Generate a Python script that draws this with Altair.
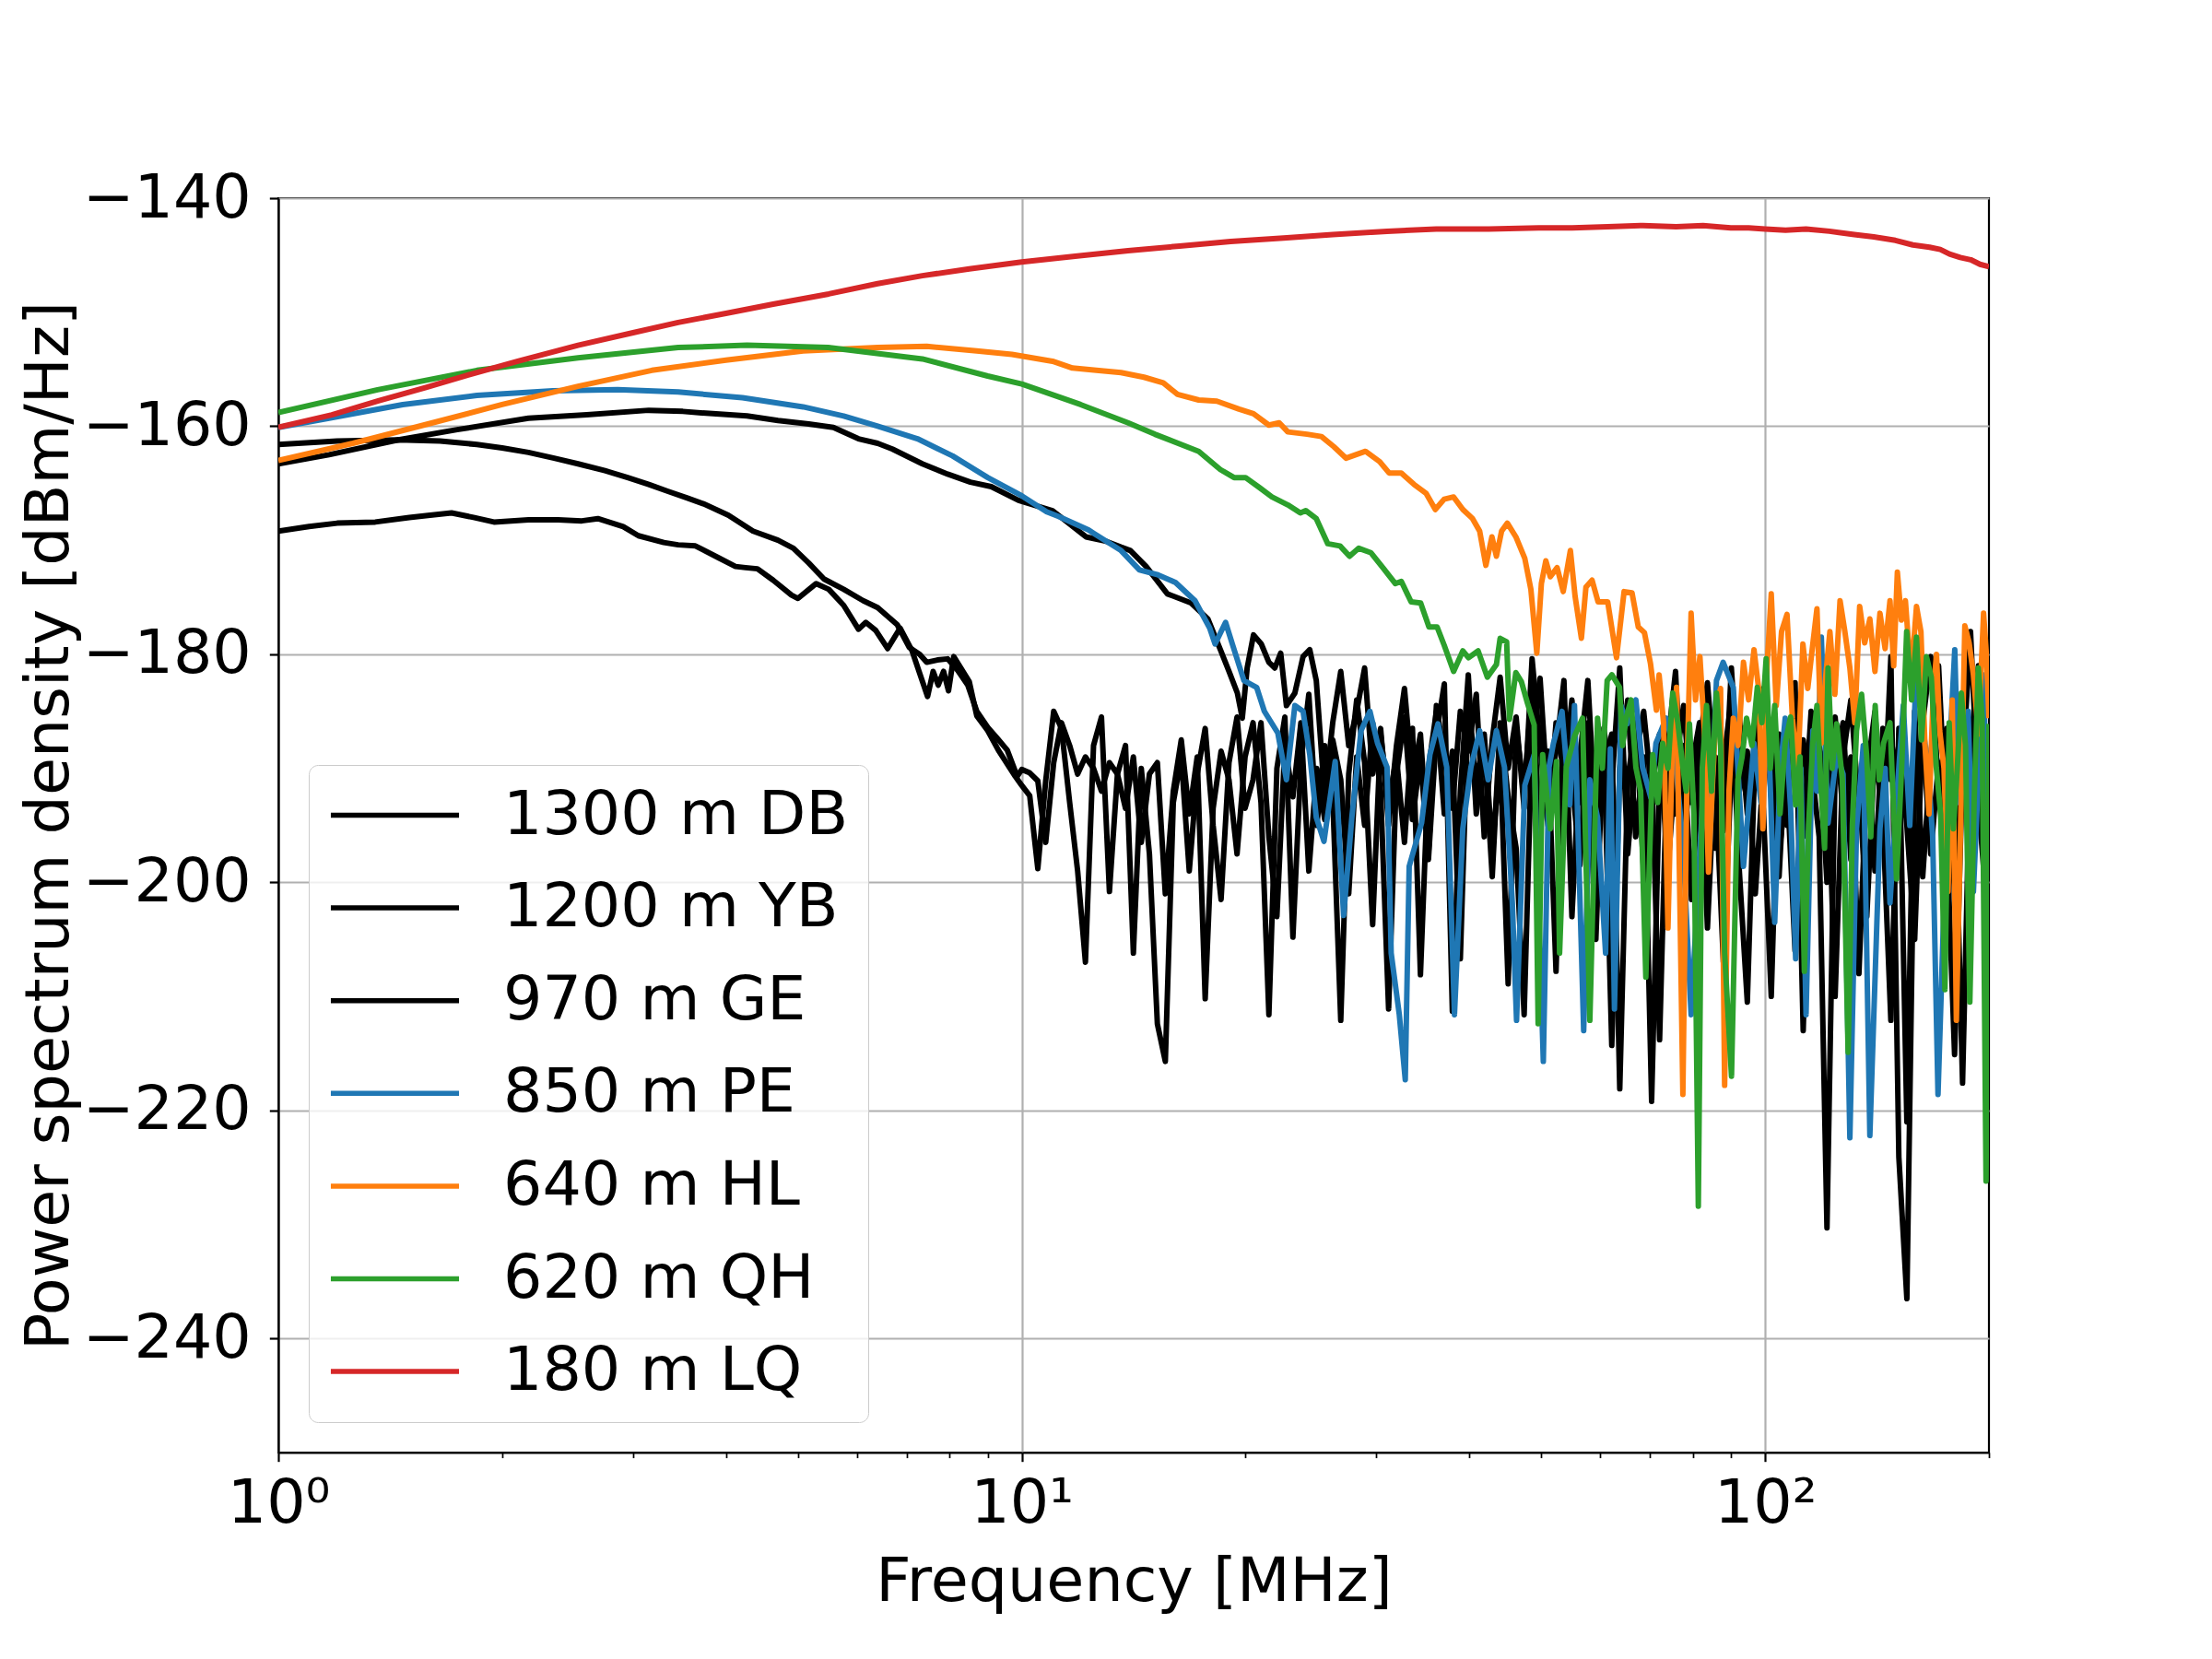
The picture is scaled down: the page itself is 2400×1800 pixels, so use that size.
import altair as alt
import pandas as pd

NAMES = ["1300 m DB", "1200 m YB", "970 m GE", "850 m PE", "640 m HL", "620 m QH", "180 m LQ"]
COLORS = ["#000000", "#000000", "#000000", "#1f77b4", "#ff7f0e", "#2ca02c", "#d62728"]

# shared frequency grid (MHz) for the noise floor part of the black curves
F_GRID = [10.00, 10.25, 10.51, 10.77, 11.04, 11.31, 11.60, 11.89, 12.18, 12.49,
          12.80, 13.12, 13.45, 13.79, 14.13, 14.48, 14.85, 15.22, 15.60, 15.99,
          16.39, 16.80, 17.22, 17.65, 18.09, 18.54, 19.00, 19.48, 19.97, 20.47,
          20.98, 21.50, 22.04, 22.59, 23.16, 23.74, 24.33, 24.94, 25.56, 26.20,
          26.86, 27.53, 28.22, 28.92, 29.65, 30.39, 31.15, 31.92, 32.72, 33.54,
          34.38, 35.24, 36.12, 37.02, 37.95, 38.90, 39.87, 40.87, 41.89, 42.94,
          44.01, 45.11, 46.24, 47.40, 48.58, 49.80, 51.04, 52.32, 53.62, 54.96,
          56.34, 57.74, 59.19, 60.67, 62.18, 63.74, 65.33, 66.96, 68.64, 70.35,
          72.11, 73.92, 75.76, 77.66, 79.60, 81.59, 83.63, 85.72, 87.86, 90.06,
          92.31, 94.62, 96.99, 99.41, 101.9, 104.4, 107.0, 109.7, 112.5, 115.3,
          118.2, 121.1, 124.2, 127.3, 130.4, 133.7, 137.0, 140.5, 144.0, 147.6,
          151.3, 155.1, 158.9, 162.9, 167.0, 171.1, 175.4, 179.8, 184.3, 188.9,
          193.6, 198.5, 200.0]

# 1300 m DB
DB_LEAD_F = [1.0, 1.1, 1.2, 1.35, 1.5, 1.6, 1.71, 1.83, 1.95, 2.17, 2.38, 2.56, 2.69, 2.91, 3.05,
             3.3, 3.45, 3.64, 3.9, 4.12, 4.25, 4.41, 4.63, 4.9, 5.0, 5.29, 5.5, 5.76, 6.03, 6.17,
             6.36, 6.6, 6.86, 7.12, 7.47, 7.6, 7.72, 7.85, 7.97, 8.1, 8.5, 8.7, 9.0, 9.3, 9.8]
DB_LEAD_V = [-169.2, -168.8, -168.5, -168.4, -168.0, -167.8, -167.6, -168.0, -168.4, -168.2, -168.2,
             -168.3, -168.1, -168.8, -169.6, -170.2, -170.4, -170.5, -171.5, -172.3, -172.4, -172.5,
             -173.5, -174.8, -175.1, -173.8, -174.3, -175.7, -177.8, -177.2, -177.9, -179.5, -177.7,
             -179.7, -183.7, -181.5, -182.7, -181.5, -183.2, -180.2, -182.4, -185.4, -186.7, -188.4,
             -190.7]
DB_NOISE = [-191.5, -192.4, -198.8, -191.1, -185.0, -186.5, -193.0, -199.0, -207.0, -188.0,
            -185.5, -200.8, -190.5, -193.5, -189.0, -196.5, -190.5, -189.5, -201.0, -192.0,
            -187.5, -194.0, -189.0, -210.2, -193.5, -188.5, -191.0, -197.5, -189.0, -186.0,
            -193.0, -211.6, -190.0, -185.5, -204.8, -189.5, -183.5, -195.0, -188.0, -192.5,
            -212.1, -190.5, -184.0, -189.5, -203.7, -187.0, -193.0, -189.0, -196.5, -186.5,
            -208.1, -190.0, -185.0, -194.0, -188.5, -206.7, -184.5, -191.5, -187.0, -197.0,
            -189.0, -208.9, -186.5, -192.0, -183.0, -195.5, -188.5, -207.8, -185.0, -191.0,
            -198.5, -186.0, -193.5, -188.0, -214.3, -190.0, -184.0, -196.0, -189.0, -219.2,
            -191.0, -186.5, -194.0, -188.0, -201.5, -190.5, -185.5, -197.0, -189.5, -184.0,
            -199.0, -210.5, -188.0, -193.5, -210.0, -187.0, -195.0, -182.5, -213.0, -189.5,
            -196.0, -230.3, -190.0, -186.0, -198.0, -191.0, -203.0, -188.0, -194.5, -212.1,
            -186.5, -221.0, -185.0, -199.5, -189.0, -181.0, -195.5, -215.1, -190.0, -178.0,
            -193.0, -202.0, -197.0]

# 1200 m YB
YB_LEAD_F = [1.0, 1.2, 1.45, 1.65, 1.85, 2.0, 2.17, 2.35, 2.53, 2.75, 2.95, 3.15, 3.34, 3.55, 3.73,
             4.03, 4.35, 4.7, 4.93, 5.17, 5.42, 5.76, 6.12, 6.4, 6.8, 7.06, 7.29, 7.45, 7.7, 7.95,
             8.2, 8.46, 8.7, 9.0, 9.28, 9.56, 9.86]
YB_LEAD_V = [-161.6, -161.3, -161.2, -161.3, -161.6, -161.9, -162.3, -162.8, -163.3, -163.9, -164.5,
             -165.1, -165.7, -166.3, -166.8, -167.8, -169.2, -170.0, -170.7, -172.0, -173.4, -174.3,
             -175.3, -175.9, -177.4, -179.4, -180.0, -180.7, -180.5, -180.4, -181.4, -182.7, -185.0,
             -186.4, -187.4, -188.4, -190.7]
YB_NOISE = [-190.1, -190.4, -191.1, -196.5, -189.5, -186.0, -188.0, -190.5, -189.0, -190.0,
            -192.0, -189.5, -190.5, -188.0, -206.2, -190.0, -197.5, -212.4, -215.7, -193.0,
            -189.0, -199.0, -190.5, -186.5, -195.0, -201.5, -189.5, -185.5, -193.5, -191.0,
            -186.0, -196.0, -203.0, -188.0, -192.5, -186.0, -199.0, -190.0, -194.5, -187.5,
            -191.0, -201.0, -189.0, -195.0, -186.0, -192.0, -211.1, -190.5, -185.5, -194.5,
            -189.0, -198.0, -187.0, -182.6, -211.3, -192.0, -181.8, -194.0, -188.0, -199.5,
            -186.0, -192.5, -197.0, -211.6, -187.0, -182.1, -193.0, -188.5, -182.3, -203.0,
            -189.0, -182.3, -195.0, -190.0, -187.0, -218.1, -191.0, -186.0, -199.0, -189.5,
            -213.8, -188.0, -181.5, -196.0, -190.0, -186.0, -204.0, -189.0, -195.5, -181.2,
            -192.0, -188.5, -201.0, -190.5, -186.0, -197.5, -191.0, -206.0, -187.5, -193.0,
            -188.0, -200.0, -185.5, -194.0, -189.0, -208.0, -190.5, -185.0, -196.0, -180.2,
            -224.1, -236.5, -191.0, -187.0, -197.5, -189.5, -205.0, -190.0, -217.6, -188.0,
            -181.0, -195.0, -190.0]

# 970 m GE
GE_LEAD_F = [1.0, 1.17, 1.45, 1.74, 2.17, 2.6, 3.15, 3.5, 3.84, 4.27, 4.7, 5.17, 5.58, 6.03, 6.4,
             6.7, 7.35, 7.95, 8.53, 9.1, 9.9, 11.0, 12.2, 13.0, 13.6, 14.0, 14.7, 15.7, 16.9, 17.8,
             18.5, 19.0, 19.5, 19.8, 20.1, 20.5, 21.0, 21.5, 21.9, 22.3, 22.7, 23.3, 23.9, 24.4, 24.9]
GE_LEAD_V = [-163.3, -162.5, -161.2, -160.3, -159.3, -159.0, -158.6, -158.7, -158.9, -159.1, -159.5,
             -159.8, -160.1, -161.1, -161.5, -162.0, -163.3, -164.2, -164.9, -165.3, -166.5, -167.4,
             -169.7, -170.1, -170.6, -170.9, -172.3, -174.7, -175.5, -176.9, -179.6, -181.5, -183.4,
             -185.6, -181.2, -178.3, -179.1, -180.7, -181.2, -179.9, -184.5, -183.4, -180.2, -179.6,
             -182.3]
GE_START = 38
GE_NOISE = [-192.6, -186.0,
            -181.5, -188.0, -185.0, -181.2, -190.5, -186.5, -195.0, -188.0, -183.0, -191.0,
            -187.0, -197.5, -184.5, -189.0, -193.5, -185.0, -188.5, -183.5, -196.0, -187.5,
            -182.0, -190.0, -185.5, -193.5, -180.4, -188.0, -195.0, -186.0, -190.5, -184.0,
            -193.0, -188.5, -205.0, -186.5, -191.5, -181.2, -197.5, -189.0, -185.0, -192.0,
            -187.0, -199.0, -190.0, -184.5, -193.0, -188.0, -182.5, -191.0, -207.0, -190.0,
            -185.5, -194.0, -188.5, -183.0, -192.5, -199.5, -186.5, -190.0, -196.0, -185.0,
            -191.5, -187.5, -210.0, -189.0, -184.0, -193.5, -188.0, -199.0, -186.5, -191.0,
            -188.0, -195.0, -205.0, -186.0, -180.2, -192.0, -186.5, -199.5, -188.0, -194.0,
            -184.5, -205.0, -196.0]

# 850 m PE
PE_F = [1.0, 1.17, 1.47, 1.85, 2.34, 2.86, 3.45, 4.21, 5.08, 5.76, 6.4, 7.24, 8.07, 9.0, 10.0, 10.8,
        11.2, 12.3, 12.5, 13.6, 14.4, 15.2, 16.1, 17.1, 17.9, 18.2, 18.8, 19.2, 19.9, 20.7, 21.2,
        22.1, 22.7, 23.3, 23.9, 24.4, 24.9, 25.5, 26.4, 27.1, 27.8, 28.6, 29.4, 30.1, 31.0, 31.4,
        32.2, 32.8, 33.2, 34.5, 35.4, 36.3, 37.3, 38.2, 39.2, 40.2, 41.3, 42.4, 43.5, 44.6, 45.7,
        46.3, 47.5, 48.9, 50.3, 51.2, 51.9, 53.3, 54.6, 55.4, 57.0, 58.1, 59.5, 61.0, 61.9, 62.7,
        64.0, 65.2, 67.0, 68.4, 70.2, 71.3, 73.6, 75.5, 77.5, 79.5, 82.5, 84.2, 86.0, 87.8, 90.6,
        93.5, 96.6, 98.7, 100.9, 103.0, 104.7, 106.4, 108.2, 109.9, 111.7, 113.5, 115.9, 117.4,
        119.0, 121.5, 124.8, 127.3, 130.0, 132.7, 135.5, 138.3, 142.7, 145.0, 147.2, 150.3, 153.4,
        156.5, 159.8, 162.7, 165.6, 168.0, 170.8, 175.3, 177.5, 179.9, 182.2, 184.6, 187.5, 190.6,
        193.5, 196.7, 200.0]
PE_V = [-160.1, -159.3, -158.1, -157.3, -156.9, -156.8, -157.0, -157.5, -158.3, -159.1, -160.0,
        -161.1, -162.6, -164.5, -166.1, -167.5, -167.9, -169.1, -169.4, -170.9, -172.6, -173.0,
        -173.7, -175.3, -177.7, -179.1, -177.2, -179.1, -182.3, -182.9, -185.0, -186.9, -191.0,
        -184.5, -185.0, -188.8, -194.3, -196.4, -189.4, -202.9, -194.3, -186.7, -185.0, -187.8,
        -189.9, -206.2, -211.6, -217.3, -198.6, -194.8, -188.8, -186.1, -189.9, -211.6, -195.3,
        -189.9, -186.7, -191.0, -186.7, -189.9, -201.8, -212.1, -191.5, -188.8, -215.7, -189.9,
        -187.8, -185.0, -193.2, -184.5, -213.0, -191.0, -194.3, -206.2, -188.3, -211.1, -184.5,
        -186.1, -184.0, -189.9, -192.6, -187.8, -185.6, -188.5, -196.4, -211.6, -192.1, -197.0,
        -182.3, -180.7, -182.9, -198.6, -187.8, -193.0, -185.6, -203.5, -190.5, -185.6, -193.5,
        -206.7, -190.0, -211.6, -186.7, -192.0, -178.5, -194.8, -188.8, -190.5, -222.4, -195.3,
        -188.0, -222.2, -195.3, -190.0, -201.8, -192.5, -184.5, -195.0, -181.2, -186.0, -189.9,
        -196.0, -218.6, -195.3, -187.0, -179.6, -193.0, -189.9, -185.0, -200.8, -191.0, -181.8,
        -205.6]

# 640 m HL
HL_F = [1.0, 1.26, 1.59, 2.0, 2.53, 3.18, 4.0, 5.08, 6.4, 7.45, 8.7, 9.7, 11.0, 11.7, 12.6, 13.6,
        14.6, 15.5, 16.2, 17.3, 18.3, 19.6, 20.5, 21.5, 22.2, 22.8, 24.2, 25.3, 26.3, 27.3, 29.0,
        30.3, 31.2, 32.4, 33.7, 35.0, 36.0, 37.0, 38.1, 39.2, 40.4, 41.3, 42.1, 42.9, 43.5, 44.2,
        45.0, 46.2, 47.5, 48.4, 49.3, 50.0, 50.7, 51.4, 52.5, 53.5, 54.7, 55.5, 56.6, 57.4, 58.5,
        59.6, 61.4, 63.1, 64.6, 66.2, 67.5, 68.8, 70.1, 71.4, 72.0, 73.0, 74.0, 75.0, 76.0, 77.5,
        78.5, 79.5, 80.6, 81.7, 82.8, 83.9, 85.0, 86.0, 87.1, 88.2, 89.4, 90.6, 92.0, 93.5, 95.0,
        96.6, 98.0, 99.3, 100.6, 101.9, 103.5, 105.2, 107.0, 108.8, 110.6, 112.4, 114.1, 115.9,
        117.4, 119.0, 120.6, 122.2, 124.1, 126.1, 128.0, 130.0, 132.0, 134.0, 136.1, 138.3, 140.5,
        142.7, 145.0, 147.2, 148.9, 150.6, 152.5, 154.4, 157.1, 159.8, 162.0, 164.0, 166.1, 168.3,
        170.0, 171.7, 174.0, 176.2, 178.5, 180.8, 183.2, 185.6, 188.1, 190.6, 193.6, 196.7, 198.4,
        200.0]
HL_V = [-163.0, -161.5, -159.8, -158.1, -156.5, -155.1, -154.2, -153.4, -153.1, -153.0, -153.4,
        -153.7, -154.3, -154.9, -155.1, -155.3, -155.7, -156.2, -157.2, -157.7, -157.8, -158.5,
        -158.9, -159.9, -159.7, -160.5, -160.7, -160.9, -161.8, -162.8, -162.2, -163.1, -164.1,
        -164.1, -165.1, -165.9, -167.3, -166.4, -166.2, -167.3, -168.1, -169.2, -172.2, -169.7,
        -171.4, -169.2, -168.5, -169.7, -171.6, -174.3, -179.9, -173.8, -171.8, -173.2, -172.4,
        -174.5, -170.9, -174.9, -178.6, -174.1, -173.5, -175.4, -175.4, -180.3, -174.5, -174.6,
        -177.6, -178.1, -180.8, -184.9, -181.8, -186.0, -204.0, -188.0, -182.9, -218.6, -190.0,
        -176.4, -184.0, -180.2, -186.5, -199.1, -191.0, -184.5, -183.0, -217.8, -192.0, -185.6,
        -188.0, -180.7, -184.0, -179.6, -183.0, -195.3, -181.0, -174.7, -184.5, -178.0, -176.5,
        -185.6, -190.5, -179.1, -183.0, -179.1, -176.0, -187.8, -182.0, -178.0, -183.5, -175.3,
        -178.0, -181.2, -186.0, -175.8, -179.0, -176.9, -181.5, -176.4, -179.5, -175.3, -181.0,
        -172.8, -177.0, -175.3, -182.0, -175.8, -178.0, -187.8, -194.0, -183.4, -180.0, -186.7,
        -190.0, -200.8, -184.0, -212.1, -195.0, -177.5, -179.0, -181.8, -187.0, -176.4, -180.0,
        -185.6]

# 620 m QH
QH_F = [1.0, 1.36, 1.85, 2.53, 3.45, 4.27, 5.49, 7.35, 9.0, 10.0, 12.0, 13.9, 15.1, 17.3, 18.5,
        19.3, 20.0, 20.9, 21.7, 22.8, 23.7, 24.1, 24.9, 25.8, 26.8, 27.6, 28.4, 29.5, 30.6, 31.8,
        32.4, 33.4, 34.4, 35.3, 36.2, 37.0, 38.1, 39.2, 39.9, 41.1, 42.3, 43.5, 44.0, 44.9, 45.3,
        46.2, 47.0, 47.9, 48.9, 49.5, 50.2, 51.4, 52.4, 52.9, 54.0, 55.4, 56.8, 58.1, 59.5, 60.4,
        61.3, 62.2, 63.7, 64.3, 65.0, 66.0, 67.0, 68.0, 69.1, 70.6, 71.7, 72.8, 74.0, 75.1, 76.3,
        77.5, 78.3, 79.1, 80.2, 81.3, 82.3, 83.4, 84.7, 86.0, 87.1, 88.2, 90.1, 91.9, 93.1, 94.4,
        96.0, 97.6, 99.0, 100.3, 101.6, 103.0, 104.7, 106.4, 108.2, 109.9, 111.4, 112.9, 114.4,
        115.9, 117.4, 119.0, 120.2, 121.5, 123.1, 124.8, 127.0, 129.3, 131.0, 132.7, 134.8, 136.9,
        138.7, 140.6, 142.4, 144.3, 147.2, 150.2, 152.6, 155.0, 157.4, 159.8, 162.3, 164.8, 167.3,
        169.9, 172.2, 174.5, 176.8, 179.1, 181.3, 183.6, 186.0, 188.5, 191.0, 193.5, 195.8, 198.2,
        200.0]
QH_V = [-158.8, -156.8, -155.1, -154.0, -153.1, -152.9, -153.1, -154.1, -155.6, -156.3, -158.1,
        -159.7, -160.7, -162.2, -163.8, -164.5, -164.5, -165.4, -166.2, -166.9, -167.6, -167.4,
        -168.1, -170.3, -170.5, -171.4, -170.7, -171.1, -172.4, -173.8, -173.6, -175.4, -175.5,
        -177.6, -177.6, -179.2, -181.5, -179.7, -180.3, -179.7, -182.0, -180.9, -178.6, -178.9,
        -185.7, -181.6, -182.4, -184.3, -186.2, -212.4, -188.8, -195.3, -189.4, -206.2, -189.9,
        -187.2, -185.6, -212.1, -185.6, -190.0, -182.3, -181.8, -182.9, -188.0, -185.6, -184.0,
        -189.9, -192.0, -208.3, -188.8, -193.0, -187.8, -190.0, -183.4, -186.0, -189.9, -192.0,
        -186.1, -194.0, -228.4, -190.0, -184.5, -192.0, -183.4, -188.0, -206.2, -217.0, -191.0,
        -189.0, -185.6, -188.0, -182.9, -186.0, -180.4, -190.0, -184.5, -194.0, -187.8, -185.5,
        -193.2, -189.0, -207.8, -195.0, -187.8, -184.5, -192.1, -197.0, -181.2, -190.0, -186.1,
        -191.0, -214.9, -195.0, -186.7, -183.5, -188.8, -196.0, -184.5, -191.0, -187.8, -186.0,
        -199.7, -190.0, -178.0, -184.0, -178.5, -187.5, -180.2, -182.0, -189.9, -194.0, -209.4,
        -186.0, -195.3, -190.0, -183.4, -188.0, -210.5, -193.0, -181.2, -185.5, -226.2, -186.1]

# 180 m LQ
LQ_F = [1.0, 1.18, 1.36, 1.58, 1.8, 2.1, 2.53, 3.0, 3.45, 4.0, 4.63, 5.5, 6.4, 7.35, 8.5, 10.0,
        11.8, 13.9, 16.3, 19.1, 22.5, 26.2, 31.0, 36.1, 42.5, 49.6, 55.0, 61.4, 68.5, 75.9, 82.5,
        89.9, 95.0, 100.0, 106.5, 113.5, 122.0, 131.8, 140.0, 149.7, 158.0, 166.4, 172.0, 177.0,
        183.0, 189.0, 194.5, 200.0]
LQ_V = [-160.1, -159.0, -157.8, -156.6, -155.5, -154.3, -152.9, -151.8, -150.9, -150.1, -149.3,
        -148.4, -147.5, -146.8, -146.2, -145.6, -145.1, -144.6, -144.2, -143.8, -143.5, -143.2,
        -142.9, -142.7, -142.7, -142.6, -142.6, -142.5, -142.4, -142.5, -142.4, -142.6, -142.6,
        -142.7, -142.8, -142.7, -142.9, -143.2, -143.4, -143.7, -144.1, -144.3, -144.5, -144.9,
        -145.2, -145.4, -145.8, -146.0]

X_TICKS = [1, 2, 3, 4, 5, 6, 7, 8, 9, 10, 20, 30, 40, 50, 60, 70, 80, 90, 100, 200]
Y_TICKS = [-240, -220, -200, -180, -160, -140]

SERIES = [
    (NAMES[0], DB_LEAD_F + F_GRID, DB_LEAD_V + DB_NOISE),
    (NAMES[1], YB_LEAD_F + F_GRID, YB_LEAD_V + YB_NOISE),
    (NAMES[2], GE_LEAD_F + F_GRID[GE_START:], GE_LEAD_V + GE_NOISE),
    (NAMES[3], PE_F, PE_V),
    (NAMES[4], HL_F, HL_V),
    (NAMES[5], QH_F, QH_V),
    (NAMES[6], LQ_F, LQ_V),
]

rows = []
for k, (name, fs, vs) in enumerate(SERIES):
    assert len(fs) == len(vs), (name, len(fs), len(vs))
    for f, v in zip(fs, vs):
        rows.append({"series": name, "f": f, "psd": v, "k": k})
df = pd.DataFrame(rows)

FONT = "DejaVu Sans"
FS = 66.7
MAJOR = "datum.value == 1 || datum.value == 10 || datum.value == 100"

x_axis = alt.Axis(
    values=X_TICKS,
    labelExpr="datum.value == 1 ? '10⁰' : datum.value == 10 ? '10¹' : datum.value == 100 ? '10²' : ''",
    labelFlush=False, labelOverlap=False, labelLimit=1000,
    labelFont=FONT, labelFontSize=FS, labelColor="black", labelPadding=13,
    tickColor="black",
    tickSize={"condition": {"test": MAJOR, "value": 9.7}, "value": 5.6},
    tickWidth={"condition": {"test": MAJOR, "value": 2.2}, "value": 1.7},
    grid=True, gridColor="#b0b0b0", gridWidth=2.2,
    gridOpacity={"condition": {"test": MAJOR, "value": 1}, "value": 0},
    domainColor="black", domainWidth=2.2,
    titleFont=FONT, titleFontSize=FS, titleFontWeight="normal", titleColor="black", titlePadding=18,
)
y_axis = alt.Axis(
    values=Y_TICKS, format="d",
    labelFlush=False, labelOverlap=False, labelLimit=1000,
    labelFont=FONT, labelFontSize=FS, labelColor="black", labelPadding=20,
    tickColor="black", tickSize=9.7, tickWidth=2.2,
    grid=True, gridColor="#b0b0b0", gridWidth=2.2,
    domainColor="black", domainWidth=2.2,
    titleFont=FONT, titleFontSize=FS, titleFontWeight="normal", titleColor="black", titlePadding=15,
    titleLimit=3000,
)
legend = alt.Legend(
    title=None, orient="bottom-left", offset=33,
    symbolType="M-2.28,0H2.28", symbolSize=3721, symbolStrokeWidth=5.5, symbolOpacity=1,
    symbolFillColor="transparent", symbolOffset=39,
    labelFont=FONT, labelFontSize=FS, labelColor="black", labelLimit=2000, labelOffset=84,
    rowPadding=32.6, padding=21,
    fillColor="rgba(255,255,255,0.8)", strokeColor="#cccccc", cornerRadius=10,
)

chart = alt.Chart(df).mark_line(strokeWidth=6.0, strokeJoin="round", clip=True).encode(
    x=alt.X("f:Q", scale=alt.Scale(type="log", domain=[1, 200], nice=False), axis=x_axis,
            title="Frequency [MHz]"),
    y=alt.Y("psd:Q", scale=alt.Scale(domain=[-250, -140], nice=False, zero=False), axis=y_axis,
            title="Power spectrum density [dBm/Hz]"),
    color=alt.Color("series:N", scale=alt.Scale(domain=NAMES, range=COLORS), legend=legend),
    order=alt.Order("f:Q"),
).properties(
    width=1856, height=1361,
    autosize=alt.AutoSizeParams(type="none"),
    padding={"left": 294, "top": 207, "right": 220, "bottom": 200},
).configure_view(stroke="black", strokeWidth=2.2)

chart.save("out.html", embed_options={"renderer": "svg", "actions": False})
